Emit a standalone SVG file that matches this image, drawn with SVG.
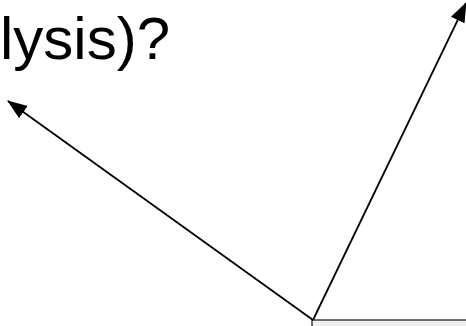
<svg xmlns="http://www.w3.org/2000/svg" width="466" height="326" viewBox="0 0 466 326">
<style>
.t{font-family:"Liberation Sans",Arial,sans-serif;font-size:60px;fill:#000}
.c{stroke:#000;stroke-width:1.8;fill:none}
</style>
<defs>
<marker id="ah" markerWidth="20" markerHeight="15" refX="19" refY="7.5" orient="auto" markerUnits="userSpaceOnUse">
<path d="M0,0 L20,7.5 L0,15 z" fill="#000"/>
</marker>
</defs>
<rect width="466" height="326" fill="#fff"/>
<g id="title"><text class="t" x="0" y="59">lysis)?</text></g>
<g id="box"><rect x="312" y="320" width="160" height="20" fill="#efefef" stroke="#333" stroke-width="1.4"/></g>
<g id="connectors">
<line class="c" x1="313" y1="320" x2="8" y2="101" marker-end="url(#ah)"/>
<line class="c" x1="313" y1="320" x2="466" y2="3" marker-end="url(#ah)"/>
</g>
</svg>
